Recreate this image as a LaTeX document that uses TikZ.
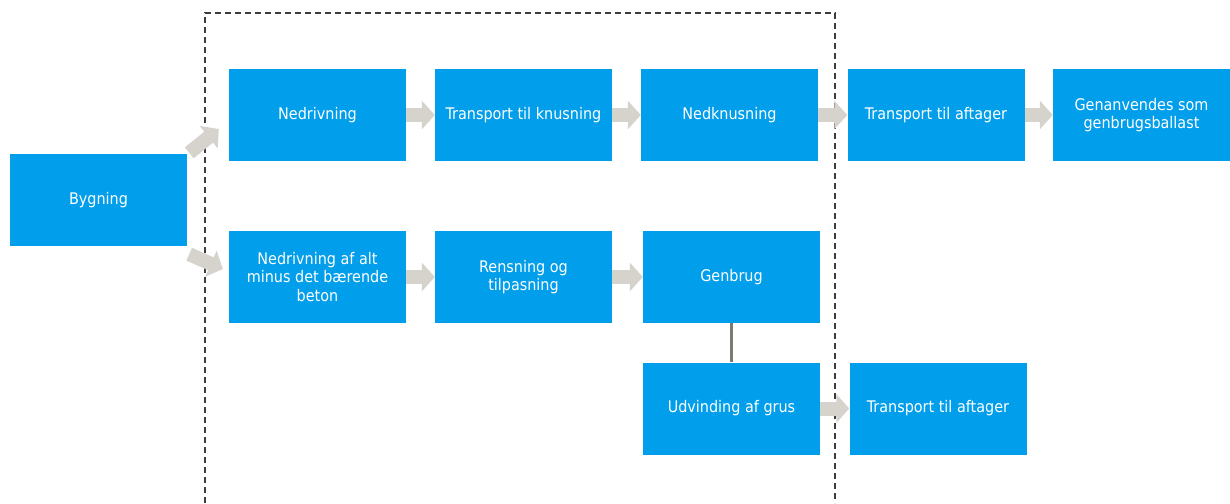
\documentclass[tikz,border=0pt]{standalone}
\usepackage{fontspec}
\setmainfont{DejaVu Sans Condensed}
\usetikzlibrary{arrows.meta,calc}
\definecolor{boxblue}{RGB}{0,158,235}
\definecolor{flowgray}{RGB}{214,211,205}
\definecolor{linkgray}{RGB}{125,122,112}
\definecolor{frame}{RGB}{60,60,60}
\tikzset{
  stepbox/.style={draw=none, fill=boxblue, minimum width=177, minimum height=92,
    inner sep=0pt, text=white, align=center,
    font=\fontsize{16}{18.5}\selectfont},
  flow/.style={draw=flowgray, line width=14,
    -{Triangle[length=13, width=28]}},
  link/.style={draw=linkgray, line width=2.5},
}
\begin{document}
\begin{tikzpicture}[x=1pt, y=-1pt]
  \useasboundingbox (0,0) rectangle (1230,503);

  % process boxes
  \node[stepbox] (byg)  at (98.5,200)   {Bygning};
  \node[stepbox] (ned)  at (317.5,115)  {Nedrivning};
  \node[stepbox] (tk)   at (523.5,115)  {Transport til knusning};
  \node[stepbox] (nk)   at (729.5,115)  {Nedknusning};
  \node[stepbox] (ta1)  at (936,115)    {Transport til aftager};
  \node[stepbox] (gen)  at (1141.5,115) {Genanvendes som\\genbrugsballast};
  \node[stepbox] (nda)  at (317.5,277)  {Nedrivning af alt\\minus det bærende\\beton};
  \node[stepbox] (ren)  at (523.5,277)  {Rensning og\\tilpasning};
  \node[stepbox] (gb)   at (731.5,277)  {Genbrug};
  \node[stepbox] (udv)  at (731.5,408.5){Udvinding af grus};
  \node[stepbox] (ta2)  at (938,408.5)  {Transport til aftager};

  % dashed scope frame, open at the bottom
  \draw[frame, dashed, line width=1.2, dash pattern=on 6pt off 4pt]
    (205,503) -- (205,13) -- (835,13) -- (835,503);

  % flow arrows
  \draw[flow] ($(byg.north east)+(2,-1)$) -- ($(ned.west)+(-10,14)$);
  \draw[flow] ($(byg.south east)+(2,8)$) -- ($(nda.west)+(-6,-8)$);
  \draw[flow] (ned.east) -- (tk.west);
  \draw[flow] (tk.east) -- (nk.west);
  \draw[flow] (nk.east) -- (ta1.west);
  \draw[flow] (ta1.east) -- (gen.west);
  \draw[flow] (nda.east) -- (ren.west);
  \draw[flow] (ren.east) -- (gb.west);
  \draw[flow] (udv.east) -- (ta2.west);

  % link between Genbrug and Udvinding af grus
  \draw[link] (gb.south) -- (udv.north);
\end{tikzpicture}
\end{document}
